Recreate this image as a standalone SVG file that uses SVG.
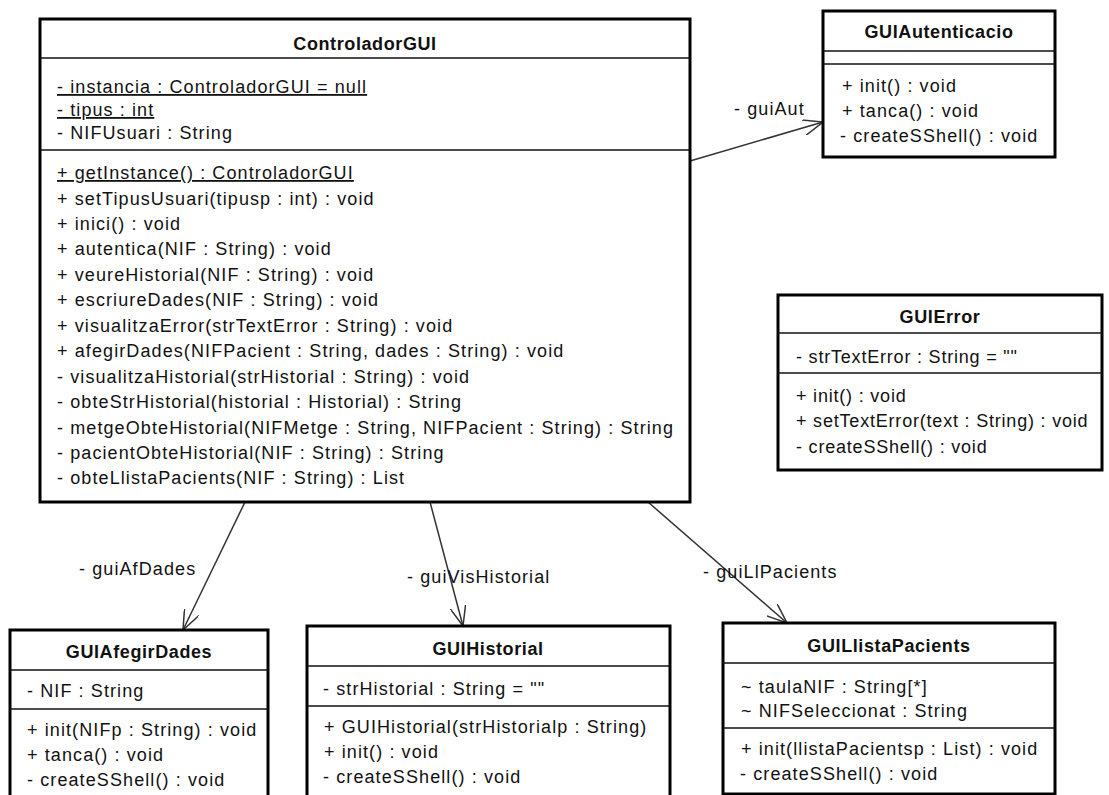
<svg xmlns="http://www.w3.org/2000/svg" width="1109" height="795" viewBox="0 0 1109 795">
<defs>
<style>
.box{fill:#fff;stroke:#000;stroke-width:3}
.sep{stroke:#111;stroke-width:1.5}
.t{font-family:"Liberation Sans",Arial,sans-serif;font-size:18px;fill:#111;letter-spacing:1.1px}
.n{letter-spacing:0.8px}
.title{font-weight:bold;text-anchor:middle;letter-spacing:0.6px}
.u{text-decoration:underline}
.conn{stroke:#333;stroke-width:1.5;fill:none;marker-end:url(#arr)}
</style>
<marker id="arr" viewBox="0 0 20 16" refX="20" refY="8" markerWidth="20" markerHeight="16" markerUnits="userSpaceOnUse" orient="auto">
<path d="M0,0 L20,8 L0,16" fill="none" stroke="#333" stroke-width="1.5"/>
</marker>
</defs>
<rect width="1109" height="795" fill="#fff"/>

<g id="connectors">
<line class="conn" x1="690" y1="161" x2="823" y2="122"/>
<line class="conn" x1="245" y1="502" x2="183" y2="630"/>
<line class="conn" x1="430" y1="502" x2="463" y2="626"/>
<line class="conn" x1="648" y1="502" x2="787" y2="623"/>
<text class="t" x="734" y="115">- guiAut</text>
<text class="t" x="79" y="575">- guiAfDades</text>
<text class="t" x="407" y="583">- guiVisHistorial</text>
<text class="t" x="703" y="578">- guiLlPacients</text>
</g>

<g id="ControladorGUI">
<rect class="box" x="40" y="19" width="650" height="483"/>
<line class="sep" x1="40" y1="58" x2="690" y2="58"/>
<line class="sep" x1="40" y1="150" x2="690" y2="150"/>
<text class="t title" x="365" y="50">ControladorGUI</text>
<text class="t u" x="57" y="93">- instancia : ControladorGUI = null</text>
<text class="t u" x="57" y="116">- tipus : int</text>
<text class="t" x="57" y="139">- NIFUsuari : String</text>
<text class="t u" x="57" y="179">+ getInstance() : ControladorGUI</text>
<text class="t" x="57" y="204.5">+ setTipusUsuari(tipusp : int) : void</text>
<text class="t" x="57" y="230">+ inici() : void</text>
<text class="t" x="57" y="255.3">+ autentica(NIF : String) : void</text>
<text class="t" x="57" y="280.8">+ veureHistorial(NIF : String) : void</text>
<text class="t" x="57" y="306.2">+ escriureDades(NIF : String) : void</text>
<text class="t" x="57" y="331.7">+ visualitzaError(strTextError : String) : void</text>
<text class="t" x="57" y="357.2">+ afegirDades(NIFPacient : String, dades : String) : void</text>
<text class="t" x="57" y="382.6">- visualitzaHistorial(strHistorial : String) : void</text>
<text class="t" x="57" y="408">- obteStrHistorial(historial : Historial) : String</text>
<text class="t" x="57" y="433.5">- metgeObteHistorial(NIFMetge : String, NIFPacient : String) : String</text>
<text class="t" x="57" y="459">- pacientObteHistorial(NIF : String) : String</text>
<text class="t" x="57" y="484.4">- obteLlistaPacients(NIF : String) : List</text>
</g>

<g id="GUIAutenticacio">
<rect class="box" x="823" y="11" width="232" height="146"/>
<line class="sep" x1="823" y1="51" x2="1055" y2="51"/>
<line class="sep" x1="823" y1="64" x2="1055" y2="64"/>
<text class="t title" x="939" y="38">GUIAutenticacio</text>
<text class="t" x="842" y="92">+ init() : void</text>
<text class="t" x="842" y="117">+ tanca() : void</text>
<text class="t" x="840" y="142">- createSShell() : void</text>
</g>

<g id="GUIError">
<rect class="box" x="778" y="295" width="324" height="175"/>
<line class="sep" x1="778" y1="333" x2="1102" y2="333"/>
<line class="sep" x1="778" y1="373" x2="1102" y2="373"/>
<text class="t title" x="940" y="323">GUIError</text>
<text class="t n" x="796" y="363">- strTextError : String = ""</text>
<text class="t n" x="796" y="402">+ init() : void</text>
<text class="t n" x="796" y="427">+ setTextError(text : String) : void</text>
<text class="t n" x="796" y="453">- createSShell() : void</text>
</g>

<g id="GUIAfegirDades">
<rect class="box" x="10" y="630" width="258" height="180"/>
<line class="sep" x1="10" y1="670" x2="268" y2="670"/>
<line class="sep" x1="10" y1="709" x2="268" y2="709"/>
<text class="t title" x="139" y="658">GUIAfegirDades</text>
<text class="t" x="27" y="697">- NIF : String</text>
<text class="t" x="27" y="736">+ init(NIFp : String) : void</text>
<text class="t" x="27" y="761">+ tanca() : void</text>
<text class="t" x="27" y="786">- createSShell() : void</text>
</g>

<g id="GUIHistorial">
<rect class="box" x="307" y="626" width="363" height="184"/>
<line class="sep" x1="307" y1="666" x2="670" y2="666"/>
<line class="sep" x1="307" y1="706" x2="670" y2="706"/>
<text class="t title" x="488" y="655">GUIHistorial</text>
<text class="t" x="323" y="695">- strHistorial : String = ""</text>
<text class="t" x="324" y="733">+ GUIHistorial(strHistorialp : String)</text>
<text class="t" x="324" y="758">+ init() : void</text>
<text class="t" x="323" y="783">- createSShell() : void</text>
</g>

<g id="GUILlistaPacients">
<rect class="box" x="723" y="623" width="332" height="171"/>
<line class="sep" x1="723" y1="663" x2="1055" y2="663"/>
<line class="sep" x1="723" y1="728" x2="1055" y2="728"/>
<text class="t title" x="889" y="652">GUILlistaPacients</text>
<text class="t" x="741" y="693">~ taulaNIF : String[*]</text>
<text class="t" x="741" y="717">~ NIFSeleccionat : String</text>
<text class="t" x="741" y="755">+ init(llistaPacientsp : List) : void</text>
<text class="t" x="740" y="780">- createSShell() : void</text>
</g>
</svg>
